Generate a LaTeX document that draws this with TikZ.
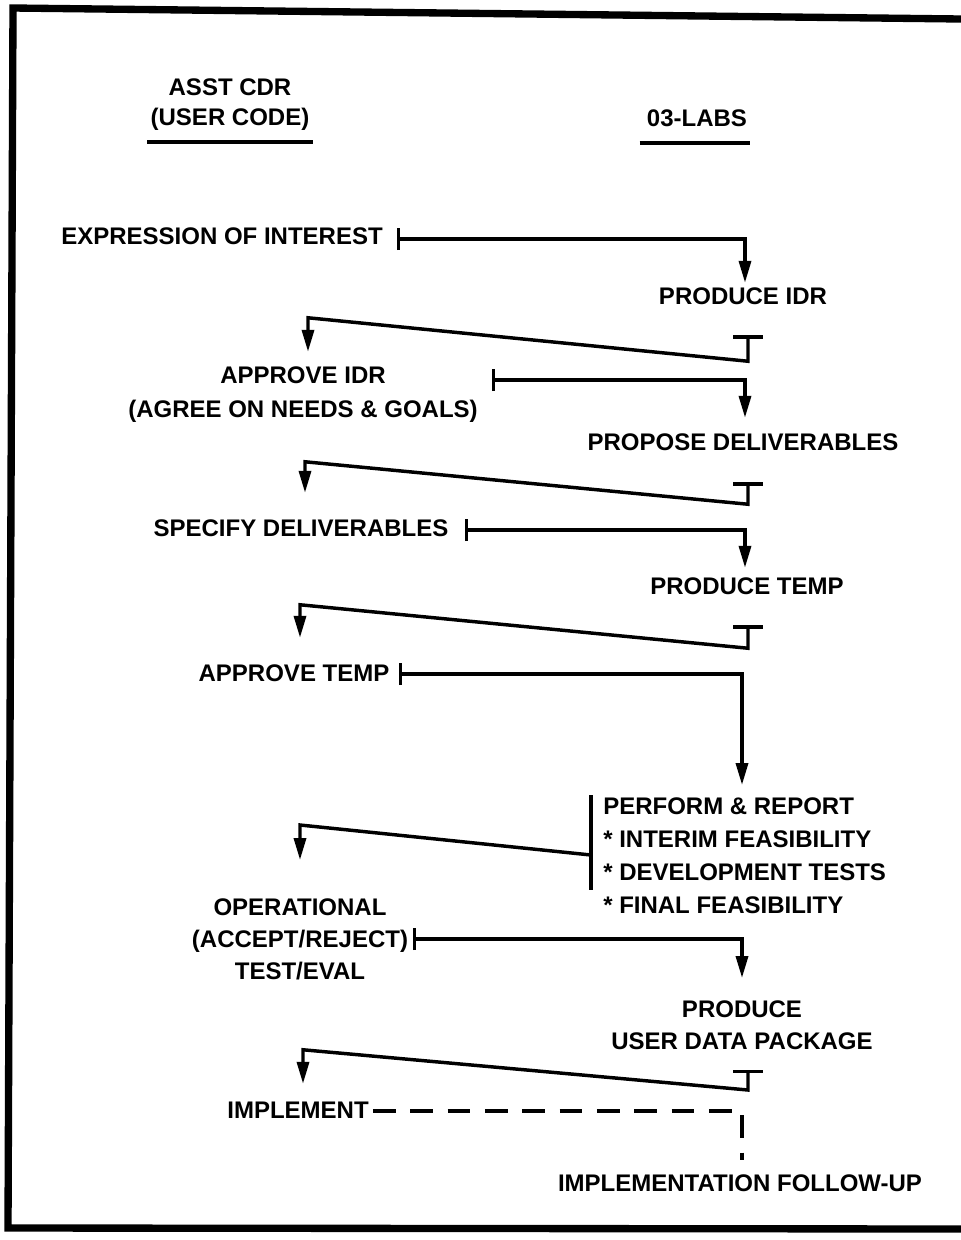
\documentclass[tikz,border=0pt]{standalone}
\usepackage{fontspec}
\setmainfont{Liberation Sans}
\usetikzlibrary{arrows.meta,calc}
\begin{document}
\begin{tikzpicture}[x=0.75pt,y=-0.75pt,
  txt/.style={inner sep=0pt,font=\fontsize{18}{24}\selectfont\bfseries,text height=13pt,text depth=0pt},
  mtxt/.style={inner sep=0pt,font=\fontsize{18}{24}\selectfont\bfseries,align=center},
  ltxt/.style={inner sep=0pt,font=\fontsize{18}{24.75}\selectfont\bfseries,align=left},
  conn/.style={line width=2.6pt,line join=miter},
  fwd/.style={conn,{Bar[width=16.5pt]}-{Triangle[length=16.5pt,width=9pt]}},
  ret/.style={conn,{Bar[width=22pt]}-{Triangle[length=16.5pt,width=9pt]}},
  dashline/.style={line width=2.6pt,dash pattern=on 17pt off 11pt},
  uline/.style={line width=3pt},
  frame/.style={line width=5.5pt,line join=miter}]
\useasboundingbox (0,0) rectangle (961,1240);
\fill[white] (0,0) rectangle (961,1240);
\draw[frame] (961,19) -- (13,8) -- (8,1228) -- (961,1229);

% headers
\node[txt] (asst) at (230,87) {ASST CDR};
\node[txt] (ucode) at (230,117) {(USER CODE)};
\node[txt] (labs) at (697,118) {03-LABS};
\draw[uline] ($(ucode.west)+(-3,25)$) -- ($(ucode.east)+(3,25)$);
\draw[uline] ($(labs.west)+(-7,25)$) -- ($(labs.east)+(3,25)$);

% nodes
\node[txt] (ei) at (222,236) {EXPRESSION OF INTEREST};
\node[txt] (pidr) at (743,296) {PRODUCE IDR};
\node[txt] (aidr) at (303,375) {APPROVE IDR};
\node[txt] (agree) at (303,409) {(AGREE ON NEEDS \& GOALS)};
\node[txt] (pdel) at (743,442) {PROPOSE DELIVERABLES};
\node[txt] (sdel) at (301,528) {SPECIFY DELIVERABLES};
\node[txt] (ptemp) at (747,586) {PRODUCE TEMP};
\node[txt] (atemp) at (294,673) {APPROVE TEMP};
\node[ltxt,anchor=north west] (perf) at (603,797.3) {PERFORM \& REPORT\\{*} INTERIM FEASIBILITY\\{*} DEVELOPMENT TESTS\\{*} FINAL FEASIBILITY};
\node[mtxt,anchor=north] (oper) at (300,898.3) {OPERATIONAL\\(ACCEPT/REJECT)\\TEST/EVAL};
\node[mtxt,anchor=north] (pudp) at (742,1000.3) {PRODUCE\\USER DATA PACKAGE};
\node[txt] (impl) at (298,1110) {IMPLEMENT};
\node[txt] (ifu) at (740,1183) {IMPLEMENTATION FOLLOW-UP};

% connectors
\draw[fwd] ($(ei.east)+(14,3)$) -| ($(pidr.north)+(2,-4.3)$);
\draw[ret] ($(pidr.south)+(5,30.3)$) -- ++(0,26) -- ($(aidr.north)+(5,-48.3)$) -- ($(aidr.north)+(5,-14.3)$);

\draw[fwd] ($(agree.east)+(14,-29)$) -| ($(pdel.north)+(2,-15.3)$);
\draw[ret] ($(pdel.south)+(5,31.3)$) -- ++(0,22) -- ($(sdel.north)+(4,-57.3)$) -- ($(sdel.north)+(4,-26.3)$);

\draw[fwd] ($(sdel.east)+(16,2)$) -| ($(ptemp.north)+(-2,-9.3)$);
\draw[ret] ($(ptemp.south)+(1,30.3)$) -- ++(0,23) -- ($(atemp.north)+(6,-59.3)$) -- ($(atemp.north)+(6,-26.3)$);

\draw[fwd] ($(atemp.east)+(9,1)$) -| ($(perf.north west)+(139,-12.3)$);
\draw[line width=3pt] ($(perf.north west)+(-12,-2.3)$) -- ($(perf.north west)+(-12,92.7)$);
\draw[conn,-{Triangle[length=16.5pt,width=9pt]}] ($(perf.north west)+(-12,57.7)$) -- ($(oper.north)+(0,-73.3)$) -- ($(oper.north)+(0,-38.3)$);

\draw[fwd] ($(oper.north)+(113,40.7)$) -| ($(pudp.north)+(0,-22.3)$);
\draw[ret] ($(pudp.north)+(6,69.7)$) -- ++(0,20) -- ($(impl.north)+(5,-51.3)$) -- ($(impl.north)+(5,-17.3)$);

\draw[dashline] ($(impl.east)+(4,1)$) -| ($(ifu.north)+(2,-14.3)$);
\end{tikzpicture}
\end{document}
